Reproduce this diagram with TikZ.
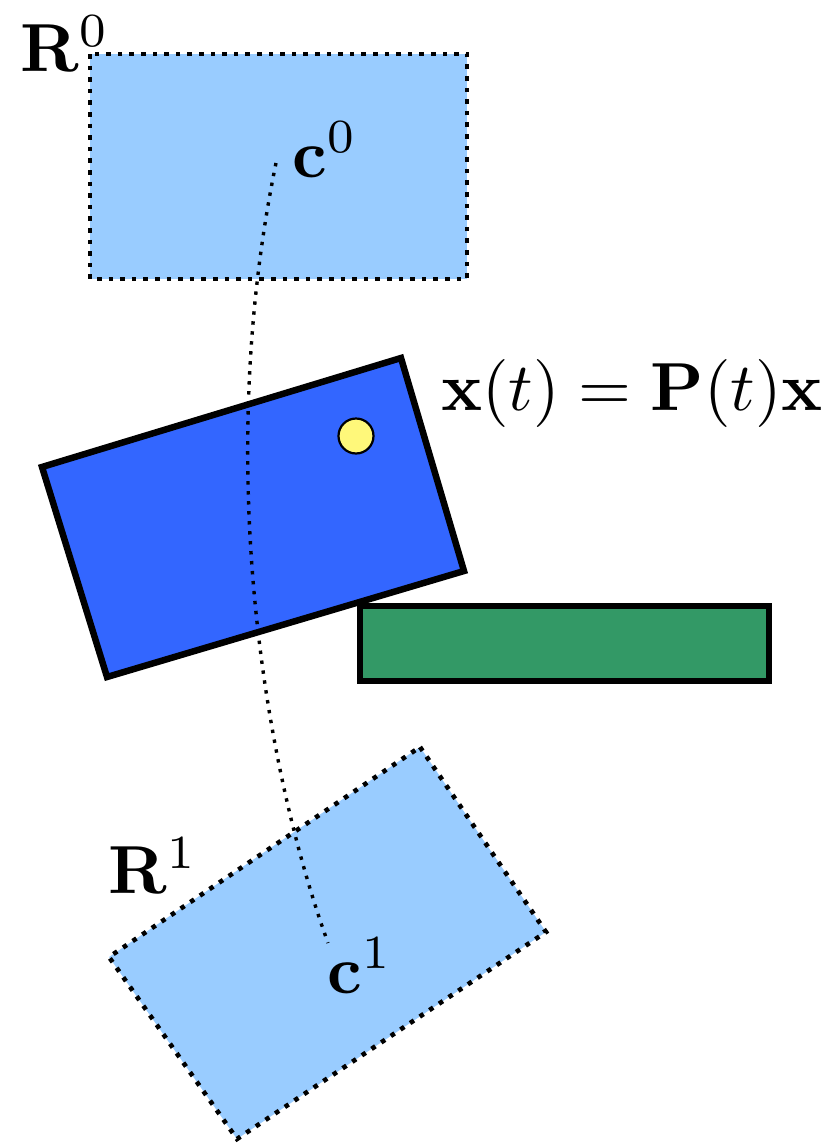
\documentclass[tikz,border=0pt]{standalone}
\usepackage{graphicx}
\definecolor{lightbluefill}{HTML}{99CCFF}
\definecolor{bluefill}{HTML}{3366FF}
\definecolor{yellowfill}{HTML}{FFF87A}
\definecolor{greenfill}{HTML}{339966}
\newcommand{\bigtxt}[1]{\scalebox{6.8}{#1}}
\tikzset{
  region/.style={fill=lightbluefill, draw=black, line width=4.6pt, dash pattern=on 4.6pt off 7pt},
  body/.style={fill=bluefill, draw=black, line width=6.5pt, line join=miter},
  obstacle/.style={fill=greenfill, draw=black, line width=6.5pt},
  pathdots/.style={draw=black, line width=3.4pt, dash pattern=on 3.4pt off 6.6pt},
  lbl/.style={inner sep=0pt, anchor=base west}
}
\begin{document}
\begin{tikzpicture}[x=1pt,y=-1pt]
\useasboundingbox (0,0) rectangle (837,1146);
% region R0
\path[region] (90,54) rectangle (467,279);
% region R1
\path[region] (420,747) -- (546,932) -- (237,1139) -- (109,957) -- cycle;
% moving body
\path[body] (42,467) -- (401,358) -- (464,571) -- (107,677) -- cycle;
\node[circle, fill=yellowfill, draw=black, line width=2.2pt, minimum size=35pt, inner sep=0pt] (pt) at (356,436) {};
% obstacle
\path[obstacle] (360,606) rectangle (769,681);
% centres
\coordinate (c0) at (276,163);
\coordinate (c1) at (328,943);
\draw[pathdots] (c0) .. controls (215,460) and (262,760) .. (c1);
% labels
\node[lbl] (R0) at (20,71) {\bigtxt{$\mathbf{R}^0$}};
\node[lbl] (R1) at (108,893) {\bigtxt{$\mathbf{R}^1$}};
\node[lbl] (lc0) at (292,177) {\bigtxt{$\mathbf{c}^0$}};
\node[lbl] (lc1) at (327,993) {\bigtxt{$\mathbf{c}^1$}};
\node[lbl] (eq) at (441,410) {\bigtxt{$\mathbf{x}(t)=\mathbf{P}(t)\mathbf{x}$}};
\end{tikzpicture}
\end{document}
